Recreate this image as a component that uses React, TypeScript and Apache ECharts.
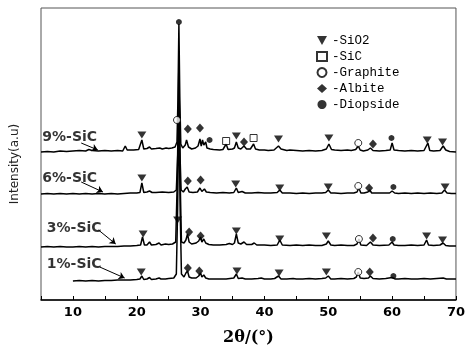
import React, { useEffect, useRef } from "react";
import * as echarts from "echarts";

// 2θ (deg) vs. intensity (a.u., stacked with offsets)
const curve9: [number, number][] = [
  [5,148],[6,148.5],[7,148],[8,149],[9,148.5],[10,149],[11,149.5],[12,149],[12.5,150.5],[13,149.5],[14,149],[15,149.5],[16,149],[17,149.5],[17.8,149],[18.2,154],[18.5,150],[19.5,150],[20.3,150.5],[20.8,160],[21.1,151],[21.6,151.5],[22,153],[22.3,151],[23,151.5],[23.6,152],[24,151],[24.6,152],[25,151.5],[25.5,152],[26.0,153],[26.3,158],[26.45,200],[26.6,276],[26.75,200],[26.9,156],[27.2,152],[27.6,155],[27.8,160],[28.1,153],[28.6,151],[29.2,152],[29.6,154],[29.9,161],[30.1,154],[30.3,160],[30.5,155],[30.8,158],[31.0,152],[31.5,151],[32,150.5],[33,150],[33.5,150.5],[34.0,156],[34.3,150.5],[35,151],[35.3,152],[35.6,158],[35.9,152],[36.3,151],[36.8,154],[37.2,151],[37.8,151],[38.3,156],[38.6,151],[39.2,150],[40,150],[40.6,149.5],[41.5,150],[42.2,154],[42.6,151],[43.5,149.5],[44,150],[45,149.5],[46,149],[47,149.5],[48,149],[49,149.5],[49.7,151],[50.1,156],[50.5,150.5],[51,150],[52,149.5],[53,150],[53.6,149.5],[54.3,150.5],[54.7,154],[55.0,150],[55.5,149],[56.2,150],[56.6,152],[57,149.5],[58,149],[59,149.5],[59.7,150],[60.0,157],[60.3,150],[61,149.5],[62,149],[63,149.5],[64,149],[65,149.5],[65.6,157],[65.9,149.5],[66.5,149],[67.5,149.5],[68,154],[68.4,150],[69,148.5],[70,148]
];
const curve6: [number, number][] = [
  [5,106],[6,106.5],[7,106],[8,106.5],[9,106],[10,106.5],[11,106],[12,106.5],[13,106],[14,106.5],[15,106],[16,106.5],[17,106],[18,106.5],[19,107],[20,107],[20.5,107.5],[20.8,117],[21.1,107.5],[21.6,108],[22,109],[22.4,107.5],[23,107.5],[24,108],[25,107.5],[25.8,108],[26.2,110],[26.45,150],[26.6,190],[26.75,150],[26.95,110],[27.3,108],[27.6,111],[27.9,113],[28.2,108],[28.8,107.5],[29.5,108],[29.9,112],[30.2,108.5],[30.6,111],[30.9,108],[31.5,107.5],[32.5,107],[33.5,107.5],[34.5,107],[35.2,107.5],[35.6,112],[35.9,107.5],[36.5,108.5],[37,107],[38,107],[39,107.5],[40,107],[41,107],[42,107.5],[42.4,110],[42.8,107],[44,107],[45,106.5],[46,107],[47,106.5],[48,107],[49,107],[49.6,107.5],[50,110],[50.4,107],[51,107],[52,106.5],[53,107],[54,107],[54.5,108],[54.8,112],[55.1,107],[55.6,107],[56.2,108],[56.5,110],[56.8,107],[57.5,107],[58.5,107],[59.6,107],[60.0,109],[60.4,107],[61,106.5],[62,107],[63,106.5],[64,107],[65,106.5],[66,107],[67,106.5],[67.8,107],[68.2,110],[68.6,107],[69.3,106.5],[70,106.5]
];
const curve3: [number, number][] = [
  [5,53],[6,53.5],[7,53],[8,53.5],[9,53],[10,53],[11,53.5],[12,53],[13,53.5],[14,53],[15,53.5],[16,53.5],[17,53.5],[18,54],[19,54],[20,54.5],[20.6,55],[20.9,63],[21.2,55],[21.6,55],[22,58],[22.3,55],[23,55.5],[23.5,57],[23.8,55],[24.5,56],[25,55.5],[25.6,56],[26.1,58],[26.35,120],[26.6,240],[26.8,120],[27.0,58],[27.4,57],[27.7,60],[27.95,66],[28.2,58],[28.6,56],[29.3,57],[29.7,59],[30.0,63],[30.2,58],[30.5,61],[30.8,57],[31.3,55.5],[32,55],[33,55],[34,55.5],[34.5,56.5],[35,55.5],[35.3,57],[35.6,66],[35.9,57],[36.3,56],[36.8,58],[37.2,55.5],[38,55.5],[38.4,57],[38.8,55],[40,55],[41,54.5],[42,55],[42.4,60],[42.8,55],[44,54.5],[45,55],[46,54.5],[47,55],[48,54.5],[49,54.5],[49.7,56],[50.0,59],[50.4,55],[51,54.5],[52,55],[53,54.5],[54,54.5],[54.5,56],[54.8,61],[55.1,55],[56,54.5],[56.6,58],[57,55],[58,54.5],[59.5,55],[60.0,58],[60.3,55],[61,54.5],[62,54.5],[63,55],[64,54.5],[65,55],[65.4,60],[65.7,55],[66.5,54.5],[67.5,55],[68,57],[68.4,54.5],[69,54],[70,54]
];
const curve1: [number, number][] = [
  [10,19],[11,19.5],[12,19],[13,19.5],[14,19],[15,19.5],[16,19.5],[17,20],[18,20],[19,20],[20,20.5],[20.5,21],[20.8,24],[21.1,20.5],[21.6,21],[22,22.5],[22.3,20.5],[23,21],[23.5,22],[23.8,21],[24.5,21],[25,21.5],[25.8,22],[26.2,26],[26.4,90],[26.6,200],[26.8,90],[27.0,26],[27.4,23],[27.7,27],[27.95,29],[28.2,23],[28.6,22],[29.3,22],[29.7,24],[30.0,27],[30.2,23],[30.5,25],[30.8,22],[31.3,21],[32,21],[33,21],[34,21],[34.6,21.5],[35.2,22],[35.6,26],[35.9,21.5],[36.5,22],[37,21],[38,21],[39,21.5],[39.5,22],[40,21],[41,21],[41.6,21.5],[42.2,24],[42.6,21],[43.5,21],[44.5,21.5],[45,21],[46,21],[47,21.5],[48,21],[49,21.5],[49.6,22],[50,24],[50.4,21],[51,21],[52,21.5],[53,21],[54,21.5],[54.4,23],[54.7,28],[55,22],[55.6,21.5],[56.3,22],[56.6,24],[57,21.5],[58,21],[59,21.5],[60,22.5],[60.5,21],[61,21],[62,21.5],[63,21],[64,21],[65,21.5],[66,21],[67,21.5],[68,22],[68.5,21],[69,21],[70,21]
];

// phase markers [2θ, intensity]
const sio2Marks: [number, number][] = [
  [20.8,165],[35.6,164],[42.2,161],[50.1,162],[65.5,160],[67.9,158],
  [20.8,122],[35.5,116],[42.4,112],[50,113],[68.3,113],
  [21,66],[26.4,80],[35.6,69],[42.4,61],[49.7,64],[65.4,64],[67.9,60],
  [20.7,28],[35.7,29],[42.3,27],[49.7,28]
];
const sicMarks: [number, number][] = [[34.0,159],[38.3,162]];
const graphiteMarks: [number, number][] = [[26.3,180],[54.7,157],[54.7,114],[54.8,61],[54.7,28]];
const albiteMarks: [number, number][] = [
  [28,171],[29.9,172],[36.8,158],[57.0,156],
  [28,119],[30,120],[56.4,112],
  [28.2,68],[30,64],[57,62],
  [28,32],[29.8,29],[56.5,28]
];
const diopsideMarks: [number, number][] = [[26.6,278],[31.4,160],[59.9,162],[60.2,113],[60.1,61],[60.2,24]];

const sampleNames = ["9%-SiC", "6%-SiC", "3%-SiC", "1%-SiC"];
const sampleLabelAt: [number, number][] = [[9.5,164],[9.5,123],[10.2,73],[10.2,37]];
const arrowFrom: [number, number][] = [[11.3,157],[11.3,118],[14.0,70],[14.2,33]];
const arrowTo: [number, number][] = [[13.9,150],[14.7,108],[16.7,56],[18.1,22]];

export default function App() {
  const ref = useRef<HTMLDivElement>(null);
  useEffect(() => {
    if (!ref.current) return;
    const chart = echarts.init(ref.current, undefined, { renderer: "svg" });
    const lineSeries = (name: string, data: [number, number][]) => ({
      name,
      type: "line",
      data,
      symbol: "none",
      lineStyle: { color: "#000", width: 1.5 },
      z: 2,
    });
    chart.setOption({
      animation: false,
      grid: { left: 41, right: 7, top: 8, bottom: 49, show: true, borderColor: "#555", borderWidth: 1 },
      xAxis: {
        type: "value",
        min: 5,
        max: 70,
        interval: 5,
        axisLine: { lineStyle: { color: "#000", width: 1.5 } },
        axisTick: { inside: true, length: 4, lineStyle: { color: "#000" } },
        axisLabel: {
          formatter: (v: number) => (v % 10 === 0 ? String(v) : ""),
          color: "#000",
          fontFamily: "DejaVu Sans",
          fontWeight: "bold",
          fontSize: 13,
          margin: 5,
          showMaxLabel: true,
        },
        splitLine: { show: false },
        name: "2θ/(°)",
        nameLocation: "middle",
        nameGap: 28,
        nameTextStyle: { color: "#000", fontFamily: "DejaVu Serif", fontWeight: "bold", fontSize: 16 },
      },
      yAxis: { type: "value", min: 0, max: 292, show: false },
      legend: {
        data: [
          { name: "SiO2", icon: "path://M0,0L10,0L5,9Z" },
          { name: "SiC" },
          { name: "Graphite" },
          { name: "Albite" },
          { name: "Diopside" },
        ],
        orient: "vertical",
        left: 311,
        top: 29,
        itemWidth: 10,
        itemHeight: 9,
        itemGap: 3,
        formatter: (n: string) => "-" + n,
        textStyle: { color: "#000", fontFamily: "Liberation Mono", fontSize: 12.5 },
      },
      graphic: [
        {
          type: "text",
          x: 14,
          y: 164,
          rotation: Math.PI / 2,
          style: {
            text: "Intensity(a.u)",
            fontFamily: "DejaVu Sans",
            fontSize: 12,
            fill: "#222",
            textAlign: "center",
            textVerticalAlign: "middle",
          },
        },
      ],
      series: [
        lineSeries("9%", curve9),
        lineSeries("6%", curve6),
        lineSeries("3%", curve3),
        lineSeries("1%", curve1),
        {
          name: "SiO2", type: "scatter", data: sio2Marks, symbol: "triangle", symbolRotate: 180,
          symbolSize: [9, 7], itemStyle: { color: "#000" }, z: 5,
        },
        {
          name: "SiC", type: "scatter", data: sicMarks, symbol: "rect", symbolSize: [7, 7],
          itemStyle: { color: "#fff", borderColor: "#000", borderWidth: 1 }, z: 5,
        },
        {
          name: "Graphite", type: "scatter", data: graphiteMarks, symbol: "circle", symbolSize: 7,
          itemStyle: { color: "#fff", borderColor: "#000", borderWidth: 1 }, z: 5,
        },
        {
          name: "Albite", type: "scatter", data: albiteMarks, symbol: "diamond", symbolSize: [8, 9],
          itemStyle: { color: "#000" }, z: 5,
        },
        {
          name: "Diopside", type: "scatter", data: diopsideMarks, symbol: "circle", symbolSize: 6,
          itemStyle: { color: "#000" }, z: 5,
        },
        {
          name: "samples",
          type: "scatter",
          symbolSize: 0,
          data: sampleNames.map((n, i) => ({ name: n, value: sampleLabelAt[i] })),
          label: {
            show: true,
            position: "inside",
            formatter: (p: any) => p.name,
            color: "#000",
            fontFamily: "DejaVu Sans",
            fontWeight: "bold",
            fontSize: 14,
          },
          markLine: {
            silent: true,
            symbol: ["none", "arrow"],
            symbolSize: 6,
            label: { show: false },
            lineStyle: { color: "#000", width: 1, type: "solid" },
            data: arrowFrom.map((f, i) => [{ coord: f }, { coord: arrowTo[i] }]),
          },
          z: 6,
        },
      ],
    });
    return () => chart.dispose();
  }, []);
  return <div ref={ref} style={{ position: "fixed", left: 0, top: 0, width: 468, height: 349 }} />;
}
